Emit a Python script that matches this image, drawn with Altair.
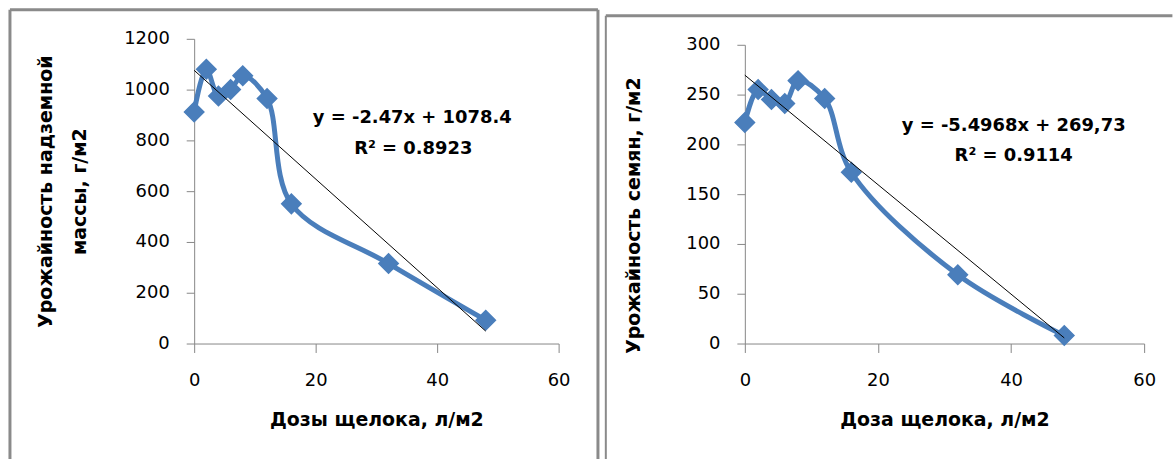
import altair as alt
import pandas as pd

# ---- data ----
doses = [0, 2, 4, 6, 8, 12, 16, 32, 48]
biomass = [912, 1080, 975, 1000, 1055, 965, 550, 315, 92]
seeds = [222, 255, 245, 241, 264, 246, 172, 69, 8]

x_ticks = [0, 20, 40, 60]
left_y_ticks = [0, 200, 400, 600, 800, 1000, 1200]
right_y_ticks = [0, 50, 100, 150, 200, 250, 300]

left_eq = ["y = -2.47x + 1078.4", "R² = 0.8923"]
right_eq = ["y = -5.4968x + 269,73", "R² = 0.9114"]

left_ytitle = ["Урожайность надземной", "массы, г/м2"]
right_ytitle = "Урожайность семян, г/м2"
left_xtitle = "Дозы щелока, л/м2"
right_xtitle = "Доза щелока, л/м2"

BLUE = "#4A7EBB"
AXIS = "#868686"
BORDER = "#8A8A8A"
FONT = "DejaVu Sans"

one = pd.DataFrame({"k": [0]})


def rule(sw=3, **kw):
    return alt.Chart(one).mark_rule(color=BORDER, strokeWidth=sw).encode(
        **{k: alt.value(v) for k, v in kw.items()}
    )


def panel(yvals, ymax, yticks, width, height, yrange, ytitle, xtitle,
          ytitle_x, ytitle_y, eq, eq_pos, borders):
    df = pd.DataFrame({"x": doses, "y": yvals})
    xenc = alt.X(
        "x:Q",
        scale=alt.Scale(domain=[0, 60], nice=False, zero=False),
        axis=alt.Axis(values=x_ticks, title=xtitle, tickSize=9, labelPadding=19,
                      format="d", titleY=82, titleBaseline="alphabetic"),
    )
    if yrange is not None:
        yscale = alt.Scale(domain=[0, ymax], nice=False, zero=False, range=yrange)
    else:
        yscale = alt.Scale(domain=[0, ymax], nice=False, zero=False)
    yenc = alt.Y(
        "y:Q",
        scale=yscale,
        axis=alt.Axis(values=yticks, title=ytitle, tickSize=8, labelPadding=17,
                      format="d", titleX=ytitle_x, titleY=ytitle_y,
                      titleBaseline="top", titleLineHeight=34, titleAngle=270),
    )
    base = alt.Chart(df)
    line = base.mark_line(color=BLUE, strokeWidth=5,
                          interpolate="catmull-rom").encode(x=xenc, y=yenc)
    pts = base.mark_point(shape="diamond", filled=True, size=380, color=BLUE,
                          stroke=BLUE, strokeWidth=1.5,
                          opacity=1).encode(x="x:Q", y="y:Q")
    trend = base.transform_regression("x", "y").mark_line(
        color="black", strokeWidth=1).encode(x="x:Q", y="y:Q")
    texts = [
        alt.Chart(one).mark_text(text=t, font=FONT, fontWeight="bold", fontSize=18,
                                 baseline="middle", align="center", color="black")
        .encode(x=alt.value(px), y=alt.value(py))
        for t, (px, py) in zip(eq, eq_pos)
    ]
    return alt.layer(line, pts, trend, *texts, *borders).properties(
        width=width, height=height)


left = panel(
    biomass, 1200, left_y_ticks, 366, 306, None, left_ytitle, left_xtitle,
    -158, 153, left_eq, [(219, 80), (220, 111)],
    [
        rule(x=-185, y=-29.2, y2=422.3),
        rule(x=405.5, y=-29.2, y2=422.3),
        rule(x=-185, x2=405.5, y=-29.2),
    ],
)

right = panel(
    seeds, 300, right_y_ticks, 401, 306, [306, 6], right_ytitle, right_xtitle,
    -121, 177, right_eq, [(270, 88), (270, 118)],
    [
        rule(sw=2, x=-139.6, y=-23.2, y2=422.3),
        rule(sw=3, x=-139.6, x2=429.4, y=-23.2),
    ],
)

chart = alt.hconcat(left, right, spacing=3).properties(
    padding={"left": 8, "top": 6, "right": 0, "bottom": 0},
    background="white",
).configure_view(stroke="transparent").configure_axis(
    domainColor=AXIS, tickColor=AXIS, labelColor="black", labelFont=FONT,
    labelFontSize=18, grid=False, titleFont=FONT, titleFontSize=19,
    titleFontWeight="bold", titleColor="black", labelFlush=False,
    domainWidth=1, tickWidth=1,
)

chart.save("out.html", embed_options={"renderer": "svg", "actions": False})
